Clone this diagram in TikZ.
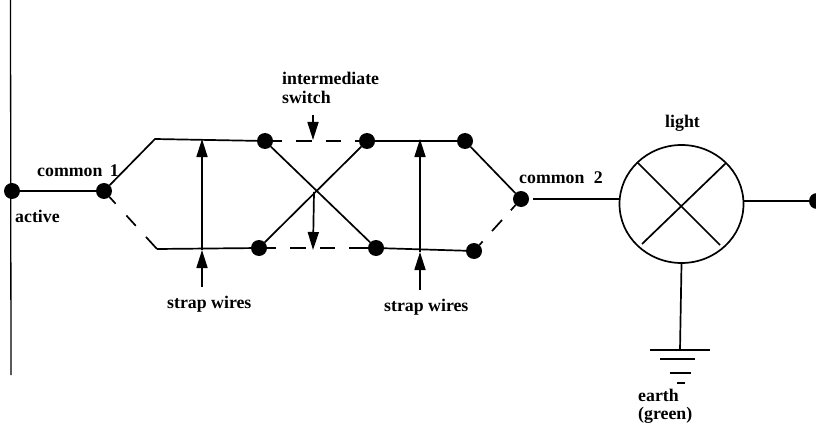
\documentclass[tikz,border=0pt]{standalone}
\usepackage{fontspec}
\setmainfont{Liberation Serif}
\usetikzlibrary{arrows.meta,shapes.geometric}
\tikzset{
  dotnode/.style={circle,fill=black,draw=none,inner sep=0pt,minimum size=16pt},
  wire/.style={line width=1.7pt},
  thinwire/.style={line width=1.3pt},
  dashwire/.style={line width=1.7pt,dash pattern=on 9pt off 14pt on 16pt off 14pt on 15pt off 14pt on 30pt},
  arrowline/.style={line width=1.7pt,-{Triangle[length=18pt,width=11pt]}},
  lab/.style={font=\fontsize{17.8}{20}\selectfont\bfseries,inner sep=0pt,anchor=west},
  lamp/.style={ellipse,draw,line width=1.7pt,minimum width=124pt,minimum height=118pt,inner sep=0pt}
}
\begin{document}
\begin{tikzpicture}[x=1pt,y=-1pt]
\useasboundingbox (0,0) rectangle (816,425);
% coordinates
\coordinate (railT) at (10.5,0);
\coordinate (railB) at (11,375);
\coordinate (cu) at (155,139);
\coordinate (cl) at (157,249);
\coordinate (cross) at (314,192);
% dots
\node[dotnode] (act) at (12,191) {};
\node[dotnode] (com1) at (104,191) {};
\node[dotnode] (t1) at (265,141) {};
\node[dotnode] (t2) at (367,141) {};
\node[dotnode] (t3) at (465,141) {};
\node[dotnode] (b1) at (259,248) {};
\node[dotnode] (b2) at (376,248) {};
\node[dotnode] (b3) at (474,251) {};
\node[dotnode] (com2) at (521,199) {};
\node[dotnode] (rd) at (817,201) {};
\node[lamp] (lamp) at (681.5,204) {};
% rail and feed
\draw[thinwire] (railT) -- (railB);
\draw[wire] (act) -- (com1);
% first switch
\draw[wire] (com1) -- (cu) -- (t1);
\draw[wire,dash pattern=on 9pt off 16pt on 14pt off 15pt on 40pt] (com1) -- (cl);
\draw[wire] (cl) -- (b1);
% intermediate
\draw[dashwire] (t1) -- (t2);
\draw[dashwire] (b1) -- (b2);
\draw[wire] (t1) -- (b2);
\draw[wire] (t2) -- (b1);
% second switch
\draw[wire] (t2) -- (t3);
\draw[wire] (b2) -- (b3);
\draw[wire] (t3) -- (com2);
\draw[wire,dash pattern=on 7pt off 13pt on 15pt off 14pt on 30pt] (com2) -- (b3);
% strap wires
\coordinate (s1t) at (202,139);
\coordinate (s1m) at (202,250);
\coordinate (s1b) at (202,287);
\coordinate (s2t) at (420,139);
\coordinate (s2m) at (420,252);
\coordinate (s2b) at (420,290);
\draw[arrowline] (s1m) -- (s1t);
\draw[arrowline] (s1b) -- (s1m);
\draw[arrowline] (s2m) -- (s2t);
\draw[arrowline] (s2b) -- (s2m);
% intermediate arrows
\coordinate (i1t) at (313,115);
\coordinate (i1m) at (313,140);
\coordinate (i2m) at (313,250);
\draw[arrowline] (i1t) -- (i1m);
\draw[arrowline] (cross) -- (i2m);
% lamp
\draw[wire] ([xshift=4pt]com2.east) -- (com2.east -| lamp.west);
\draw[wire] (lamp.east |- rd) -- (rd);
\coordinate (x1a) at (637,162);
\coordinate (x1b) at (720,245);
\coordinate (x2a) at (726,163);
\coordinate (x2b) at (642,244);
\draw[wire] (x1a) -- (x1b);
\draw[wire] (x2a) -- (x2b);
% earth
\coordinate (e0) at (680,350);
\coordinate (e1a) at (650,350); \coordinate (e1b) at (710,350);
\coordinate (e2a) at (660,359); \coordinate (e2b) at (695,359);
\coordinate (e3a) at (670,373); \coordinate (e3b) at (691,373);
\coordinate (e4a) at (677,383); \coordinate (e4b) at (685,383);
\draw[wire] (lamp.south) -- (e0);
\draw[wire] (e1a) -- (e1b);
\draw[wire] (e2a) -- (e2b);
\draw[wire] (e3a) -- (e3b);
\draw[wire] (e4a) -- (e4b);
% labels
\node[lab] (lc1) at (37,171) {common \kern3pt 1};
\node[lab] (la) at (15,216) {active};
\node[lab] (li) at (282,78) {intermediate};
\node[lab] (lsw) at (282,97) {switch};
\node[lab] (ls1) at (167,304) {strap wires};
\node[lab] (ls2) at (384,307) {strap wires};
\node[lab] (lc2) at (519,178) {common \kern5pt 2};
\node[lab] (ll) at (665,123) {light};
\node[lab] (le) at (638,395) {earth};
\node[lab] (lg) at (638,415) {(green)};
\end{tikzpicture}
\end{document}
